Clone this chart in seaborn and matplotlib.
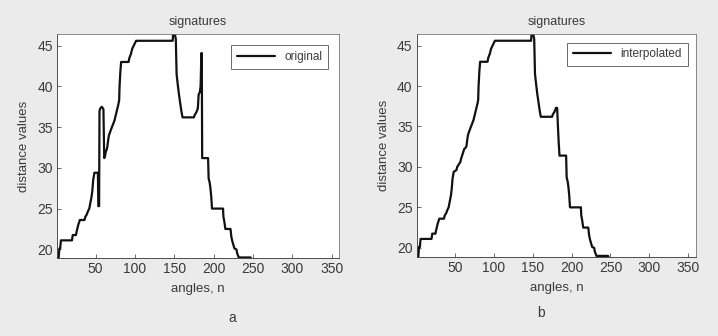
import numpy as np
import pandas as pd
import matplotlib
matplotlib.use("Agg")
import matplotlib.pyplot as plt
import seaborn as sns

# Signature vertices (angle n, distance value) for the original contour
orig_angle = [1, 3, 4, 5, 6, 20, 21, 25, 26, 27, 28, 30, 36, 37, 39, 40, 42, 43, 44, 45,
              46, 47, 48.5, 53, 53.5, 54.5, 55, 56, 58, 60, 61, 62, 63, 64, 65, 66, 67,
              68.5, 70, 72, 74, 75.5, 77, 79, 80, 80.5, 81.5, 82.5, 92, 93, 95, 96.5,
              98.5, 100, 101.5, 148, 148.5, 151, 152, 153, 154.5, 156, 157.5, 159, 160.5,
              175, 176, 178, 180, 181, 182.5, 183.5, 184.5, 185, 185.5, 193, 193.7, 195,
              196, 197, 198, 212, 212.5, 213.5, 215, 221.5, 222.5, 223.5, 225, 226.5, 229,
              230, 232, 247, 248, 360]
orig_value = [18.9, 18.9, 20.1, 20.1, 21.1, 21.1, 21.75, 21.75, 22.2, 22.6, 23.0, 23.6,
              23.6, 24.0, 24.3, 24.6, 25.0, 25.5, 26.0, 26.5, 27.3, 28.5, 29.4, 29.4,
              25.3, 25.3, 37.0, 37.3, 37.5, 37.2, 31.2, 31.4, 32.0, 32.2, 32.6, 33.4, 34.0,
              34.4, 34.8, 35.3, 35.8, 36.4, 37.0, 37.8, 38.3, 40.0, 41.8, 43.0, 43.0, 43.5,
              44.0, 44.6, 45.0, 45.3, 45.6, 45.6, 46.3, 46.3, 45.8, 41.5, 40.2, 39.0, 38.0,
              37.0, 36.2, 36.2, 36.5, 36.8, 37.3, 39.0, 39.3, 40.0, 44.1, 44.1, 31.2, 31.2,
              28.7, 28.2, 27.5, 26.5, 25.0, 25.0, 24.0, 23.5, 22.5, 22.5, 21.6, 21.1, 20.6,
              20.1, 20.0, 19.5, 19.0, 19.0, 18.6, 18.6]

# Signature vertices after interpolation over the outliers
interp_angle = [1, 3, 4, 5, 6, 20, 21, 25, 26, 27, 28, 30, 36, 37, 39, 40, 42, 43, 44, 45,
                46, 47, 48.5, 52, 53, 55, 57, 58, 60, 62, 64, 65, 66, 67, 68.5, 70, 72, 74,
                75.5, 77, 79, 80, 80.5, 81.5, 82.5, 92, 93, 95, 96.5, 98.5, 100, 101.5,
                148, 148.5, 151, 152, 153, 154.5, 156, 157.5, 159, 160.5, 175, 176, 178,
                180, 181.5, 182.5, 183.5, 184.5, 193, 193.7, 195, 196, 197, 198, 212, 212.5,
                213.5, 215, 221.5, 222.5, 223.5, 225, 226.5, 229, 230, 232, 247, 248, 360]
interp_value = [18.9, 18.9, 20.1, 20.1, 21.1, 21.1, 21.75, 21.75, 22.2, 22.6, 23.0, 23.6,
                23.6, 24.0, 24.3, 24.6, 25.0, 25.5, 26.0, 26.5, 27.3, 28.5, 29.4, 29.6,
                30.0, 30.3, 30.6, 31.0, 31.6, 32.2, 32.4, 32.6, 33.4, 34.0, 34.4, 34.8,
                35.3, 35.8, 36.4, 37.0, 37.8, 38.3, 40.0, 41.8, 43.0, 43.0, 43.5, 44.0,
                44.6, 45.0, 45.3, 45.6, 45.6, 46.3, 46.3, 45.8, 41.5, 40.2, 39.0, 38.0,
                37.0, 36.2, 36.2, 36.5, 36.8, 37.3, 37.3, 35.0, 33.0, 31.4, 31.4, 28.7,
                28.2, 27.5, 26.5, 25.0, 25.0, 24.0, 23.5, 22.5, 22.5, 21.6, 21.1, 20.6,
                20.1, 20.0, 19.5, 19.0, 19.0, 18.6, 18.6]

x_ticks = [50, 100, 150, 200, 250, 300, 350]
y_ticks = [20, 25, 30, 35, 40, 45]

sns.set_theme(style="white")
plt.rcParams["font.family"] = ["Liberation Sans", "DejaVu Sans"]

fig = plt.figure(figsize=(7.18, 3.36), dpi=100)
fig.patch.set_facecolor("#ebebeb")

panels = [
    (orig_angle, orig_value, "original", [0.0794, 0.2313, 0.3934, 0.6667], "a",
     (0.323, 0.053), 0.95),
    (interp_angle, interp_value, "interpolated", [0.5804, 0.236, 0.389, 0.662], "b",
     (0.753, 0.068), 0.7),
]

text_color = "#3a3a3a"
for xs, ys, name, rect, letter, lpos, lpad in panels:
    ax = fig.add_axes(rect)
    ax.set_facecolor("white")
    df = pd.DataFrame({"angle": xs, "value": ys, "series": name})
    sns.lineplot(data=df, x="angle", y="value", hue="series", palette=["#111111"],
                 sort=False, estimator=None, linewidth=1.6, ax=ax)
    ax.set_xlim(1, 360)
    ax.set_ylim(18.9, 46.4)
    ax.set_xticks(x_ticks)
    ax.set_yticks(y_ticks)
    ax.tick_params(axis="both", direction="in", length=3, width=0.6,
                   labelsize=10, colors="#555555", labelcolor=text_color, pad=3,
                   bottom=True, left=True)
    for s in ax.spines.values():
        s.set_color("#777777")
        s.set_linewidth(0.6)
    ax.spines["bottom"].set_color("#333333")
    ax.spines["left"].set_color("#333333")
    ax.set_xlabel("angles, n", fontsize=9.5, color=text_color, labelpad=5)
    ax.set_ylabel("distance values", fontsize=9.5, color=text_color, labelpad=5)
    ax.set_title("signatures", fontsize=9, color=text_color, pad=7)
    leg = ax.legend(loc="upper right", fontsize=8.5, frameon=True, fancybox=False,
                    handlelength=3.2, borderpad=0.5, borderaxespad=lpad)
    leg.get_frame().set_edgecolor("#444444")
    leg.get_frame().set_linewidth(0.7)
    for t in leg.get_texts():
        t.set_color(text_color)
    fig.text(lpos[0], lpos[1], letter, fontsize=10, color=text_color,
             ha="center", va="center")

fig.savefig("out.png", dpi=100, facecolor=fig.get_facecolor())
